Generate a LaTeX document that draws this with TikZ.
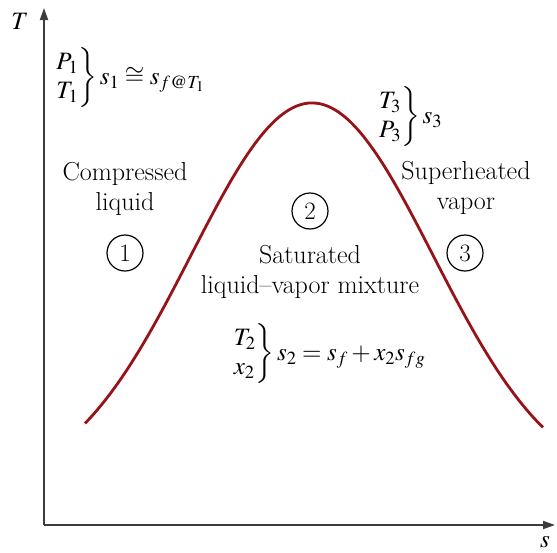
\documentclass[tikz,border=0pt]{standalone}
\usepackage{mathptmx}
\usetikzlibrary{arrows.meta}
\definecolor{curvered}{RGB}{150,20,25}
\definecolor{axisgray}{RGB}{60,60,60}
\tikzset{
  axisline/.style={line width=1.8pt, draw=axisgray, -{Triangle[length=12pt,width=8pt]}},
  domecurve/.style={line width=2.8pt, draw=curvered},
  lbl/.style={inner sep=0pt, font=\fontsize{26}{30}\selectfont, align=center},
  mlbl/.style={inner sep=0pt, font=\fontsize{25}{29}\selectfont},
  stnum/.style={circle, draw=black, line width=1.2pt, minimum size=36pt, inner sep=0pt, font=\fontsize{25}{28}\selectfont}
}
\newcommand{\twostack}[2]{\left.\begin{array}{@{}l@{}}#1\\ #2\end{array}\right\}}
\begin{document}
\begin{tikzpicture}[x=1pt,y=-1pt]
\useasboundingbox (0,0) rectangle (557,552);
\coordinate (O) at (44,525);
\coordinate (Ttip) at (44,8);
\coordinate (Stip) at (555,525);
\draw[axisline] (O) -- (Ttip);
\draw[axisline] (O) -- (Stip);
\node[mlbl] (Tlab) at (20,21) {$T$};
\node[mlbl] (slab) at (545,542) {$s$};
\draw[domecurve] plot[domain=85:543, samples=120, smooth] (\x, {490-387*exp(-0.5*((\x-312)/121)^2)});
\node[mlbl] (st1) at (130,78) {$\twostack{P_1}{T_1}s_1 \cong s_{f@T_1}$};
\node[lbl] (cl) at (125,189) {Compressed\\liquid};
\node[stnum] (c1) at (125,253) {1};
\node[stnum] (c2) at (310,211) {2};
\node[lbl] (sat) at (310,272) {Saturated\\liquid--vapor mixture};
\node[mlbl] (st2) at (329,354) {$\twostack{T_2}{x_2}s_2 = s_f + x_2 s_{fg}$};
\node[mlbl] (st3) at (410,117) {$\twostack{T_3}{P_3}s_3$};
\node[lbl] (sh) at (466,188) {Superheated\\vapor};
\node[stnum] (c3) at (465,253) {3};
\end{tikzpicture}
\end{document}
